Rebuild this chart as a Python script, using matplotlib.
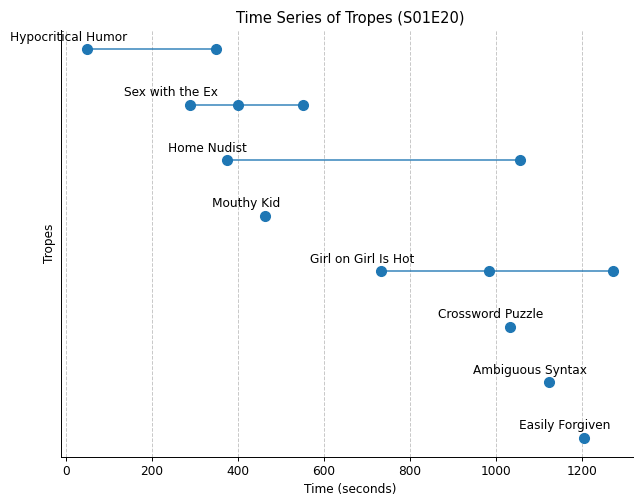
import matplotlib
matplotlib.use("Agg")
import matplotlib.pyplot as plt

tropes = ["Hypocritical Humor", "Sex with the Ex", "Home Nudist", "Mouthy Kid",
          "Girl on Girl Is Hot", "Crossword Puzzle", "Ambiguous Syntax", "Easily Forgiven"]
times = [
    [49, 349],
    [288, 400, 551],
    [374, 1056],
    [463],
    [733, 984, 1272],
    [1033],
    [1123],
    [1205],
]

s = 0.875
fig = plt.figure(figsize=(6.34, 4.95), dpi=100)
ax = fig.add_axes([0.0962, 0.0768, 0.9117, 0.8626])

for i, (name, t) in enumerate(zip(tropes, times)):
    if len(t) > 1:
        ax.plot(t, [i] * len(t), color="#1f77b4", alpha=0.75, lw=1.5 * s, zorder=2)
    ax.plot(t, [i] * len(t), "o", color="#1f77b4", markersize=8 * s, zorder=3)
    ax.annotate(name, (t[0], i), xytext=(-13.7, 8.6), textcoords="offset points",
                ha="center", va="center", fontsize=10 * s)

ax.set_xlim(-12, 1333)
ax.set_ylim(7.35, -0.35)
ax.set_yticks([])
ax.set_xticks([0, 200, 400, 600, 800, 1000, 1200])
ax.tick_params(axis="x", labelsize=10 * s, length=3.5 * s, width=0.8 * s, pad=3.5 * s)
ax.grid(axis="x", linestyle="--", alpha=0.7, lw=0.8 * s)
ax.set_axisbelow(True)
for sp in ("left", "bottom"):
    ax.spines[sp].set_linewidth(0.8 * s)
ax.spines["top"].set_visible(False)
ax.spines["right"].set_visible(False)
ax.set_xlabel("Time (seconds)", fontsize=10 * s, labelpad=4 * s)
ax.set_ylabel("Tropes", fontsize=10 * s, labelpad=4 * s)
ax.set_title("Time Series of Tropes (S01E20)", fontsize=12 * s, pad=6 * s)

fig.savefig("out.png", dpi=100)
